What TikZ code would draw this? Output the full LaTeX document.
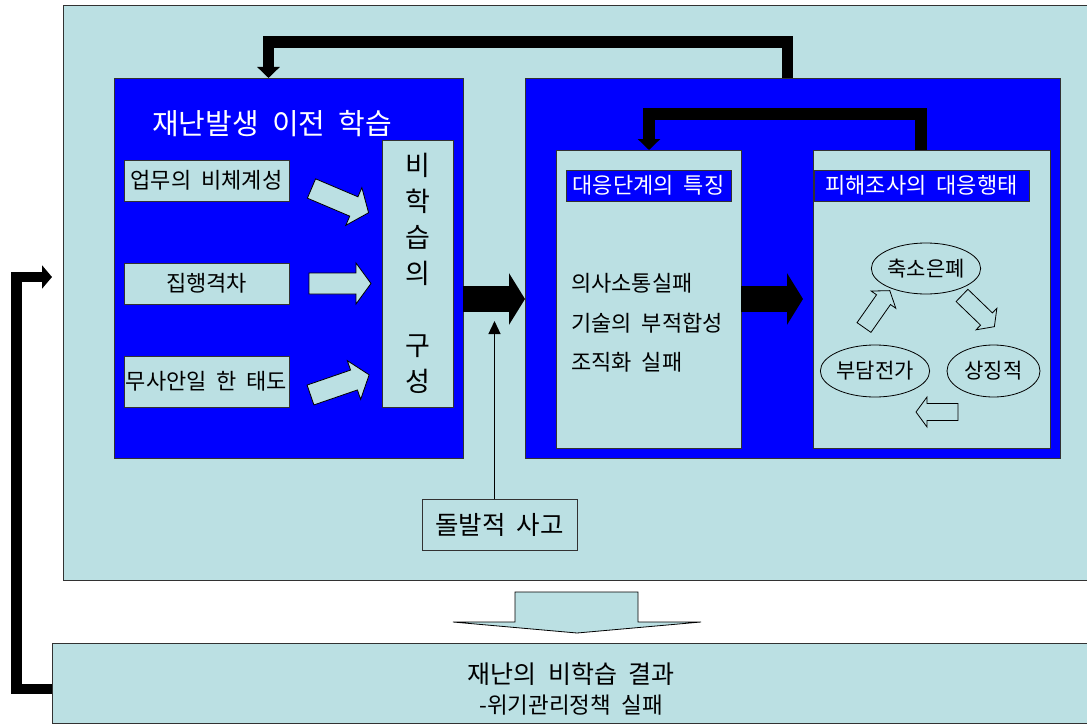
\documentclass[tikz,border=0pt]{standalone}
\usepackage{fontspec}
\setmainfont[WordSpace=2]{Noto Sans CJK KR}
\usetikzlibrary{arrows.meta,shapes.geometric}
\definecolor{lb}{RGB}{187,224,227}
\definecolor{bl}{RGB}{0,0,255}
\definecolor{edgec}{RGB}{50,50,50}
\newcommand{\blkarr}[7]{%
  \draw[blockarrow, shift={(#1,#2)}, rotate=#3]
    (0,-#5) -- ({#4-#7},-#5) -- ({#4-#7},-#6) -- (#4,0) -- ({#4-#7},#6) -- ({#4-#7},#5) -- (0,#5) -- cycle;}
\begin{document}
\begin{tikzpicture}[x=1pt,y=-1pt,
  panel/.style={draw=edgec, line width=0.8pt, inner sep=0pt, outer sep=0pt, anchor=north west},
  lbbox/.style={panel, fill=lb},
  blbox/.style={panel, fill=bl},
  fA/.style={font=\fontsize{22pt}{26pt}\selectfont},
  fb/.style={line width=11.5pt, -{Triangle[width=22pt,length=11pt]}},
  blockarrow/.style={draw=black, line width=0.8pt, fill=lb},
  bigarrow/.style={line width=26pt, -{Triangle[width=51pt,length=16pt]}},
  oval/.style={ellipse, draw=black, line width=0.8pt, inner sep=0pt, font=\fontsize{21pt}{25pt}\selectfont}
]
\clip (0,0) rectangle (1087,725);
\fill[white] (0,0) rectangle (1087,725);

% panels
\node[lbbox, minimum width=1040pt, minimum height=575pt] (bg) at (63,5) {};
\node[blbox, minimum width=349pt, minimum height=380pt] (lblue) at (114,78) {};
\node[blbox, minimum width=535pt, minimum height=380pt] (rblue) at (525,78) {};
\node[text=white, font=\fontsize{29pt}{33pt}\selectfont] (ltitle) at (272,124) {재난발생 이전 학습};

\node[lbbox, fA, minimum width=165pt, minimum height=41pt] (b1) at (124,160) {업무의 비체계성};
\node[lbbox, fA, minimum width=165pt, minimum height=41pt] (b2) at (124,263) {집행격차};
\node[lbbox, fA, minimum width=165pt, minimum height=51pt] (b3) at (124,356) {무사안일 한 태도};
\node[lbbox, minimum width=71pt, minimum height=267pt, align=center,
      font=\fontsize{27pt}{36pt}\selectfont] (vert) at (382,140) {비\\학\\습\\의\\[36pt]구\\성};

\node[lbbox, minimum width=185pt, minimum height=298pt] (c1) at (556,150) {};
\node[blbox, text=white, fA, minimum width=165pt, minimum height=31pt] (c1t) at (566,170) {대응단계의 특징};
\node[lbbox, minimum width=237pt, minimum height=298pt] (c2) at (813,150) {};
\node[blbox, text=white, fA, minimum width=215pt, minimum height=31pt] (c2t) at (814,170) {피해조사의 대응행태};

\node[fA, anchor=west, inner sep=0pt] (t1) at (571,283) {의사소통실패};
\node[fA, anchor=west, inner sep=0pt] (t2) at (571,323) {기술의 부적합성};
\node[fA, anchor=west, inner sep=0pt] (t3) at (571,362) {조직화 실패};

\node[oval, minimum width=104pt, minimum height=51pt] (e1) at (926,268.5) {축소은폐};
\node[oval, minimum width=104pt, minimum height=52pt] (e2) at (875,371) {부담전가};
\node[oval, minimum width=93pt, minimum height=52pt] (e3) at (993.5,371) {상징적};

\node[lbbox, font=\fontsize{25.5pt}{28pt}\selectfont, minimum width=155pt, minimum height=51pt] (acc) at (422,499) {돌발적 사고};

\node[lbbox, minimum width=1050pt, minimum height=80pt] (bot) at (52,643) {};
\node[align=center, font=\fontsize{25pt}{30pt}\selectfont] (bt) at (571,689)
  {재난의 비학습 결과\\{\fontsize{22.5pt}{30pt}\selectfont -위기관리정책 실패}};

% block arrows
\blkarr{311.5}{188.5}{-23}{62}{10.5}{20.5}{16}
\blkarr{309}{283.5}{0}{62}{10.5}{20.5}{15}
\blkarr{310.5}{395}{19}{62}{10.5}{20.5}{16}
\blkarr{864}{327.5}{55}{45}{8.5}{15}{11}
\blkarr{962}{295.4}{-44}{45}{8.5}{15}{11}
\blkarr{958}{412}{180}{42}{8.5}{15}{11}
\draw[blockarrow] (515,592) -- (638,592) -- (638,622) -- (701,622) -- (577,633) -- (453,622) -- (515,622) -- cycle;

% big black arrows
\coordinate (m1) at (0,299);
\coordinate (m2) at (803,299);
\draw[bigarrow] (lblue.east |- m1) -- (rblue.west |- m1);
\draw[bigarrow] (c1.east |- m1) -- (m2);

% thin arrow
\coordinate (m3) at (494.5,321);
\draw[line width=1.3pt, -{Triangle[width=12pt,length=13pt]}] (acc.north -| m3) -- (m3);

% feedback arrows
\coordinate (fa1) at (787.5,42);
\coordinate (fa2) at (268.5,42);
\draw[fb] (fa1 |- rblue.north) -- (fa1) -- (fa2) -- (fa2 |- lblue.north);
\coordinate (fc1) at (921,114);
\coordinate (fc2) at (649,114);
\draw[fb, line width=12pt] (fc1 |- c2.north) -- (fc1) -- (fc2) -- (fc2 |- c1.north);
\coordinate (lf1) at (16.5,689);
\coordinate (lf2) at (16.5,277);
\coordinate (lf3) at (52,277);
\draw[line width=10.5pt, -{Triangle[width=23pt,length=10pt]}] (bot.west |- lf1) -- (lf1) -- (lf2) -- (lf3);
\end{tikzpicture}
\end{document}
